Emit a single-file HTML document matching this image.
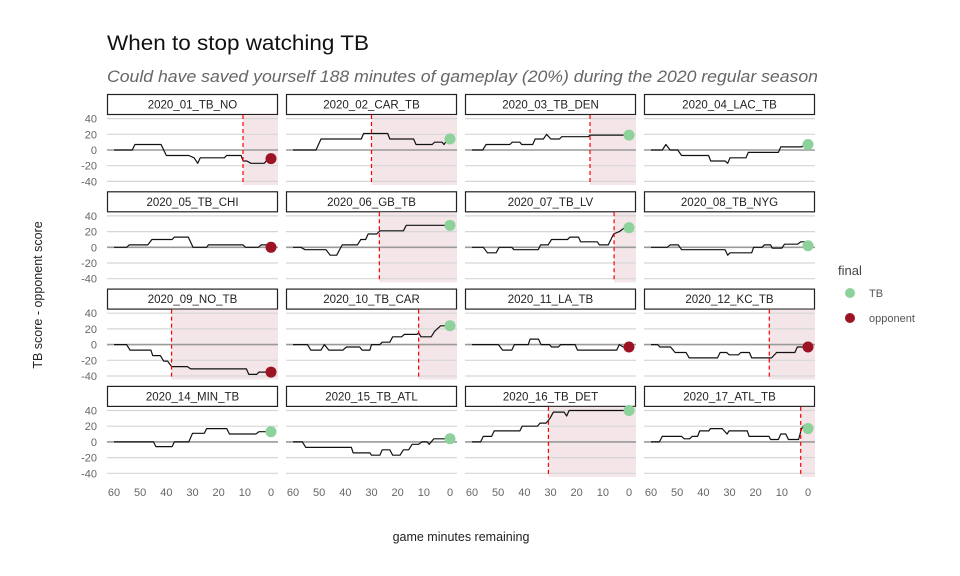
<!DOCTYPE html>
<html><head><meta charset="utf-8"><style>
body{margin:0;background:#fff;}
svg{display:block;font-family:"Liberation Sans",sans-serif;}
</style></head><body>
<svg id="chart" width="960" height="576" viewBox="0 0 960 576" xmlns="http://www.w3.org/2000/svg">
<text x="107" y="50" font-size="21" fill="#111" textLength="262" lengthAdjust="spacingAndGlyphs">When to stop watching TB</text>
<text x="107" y="82" font-size="16.5" font-style="italic" fill="#666" textLength="711" lengthAdjust="spacingAndGlyphs">Could have saved yourself 188 minutes of gameplay (20%) during the 2020 regular season</text>
<text transform="translate(42,295) rotate(-90)" text-anchor="middle" font-size="12.5" fill="#222">TB score - opponent score</text>
<text x="461" y="541" text-anchor="middle" font-size="12.5" fill="#222">game minutes remaining</text>
<g>
<text x="838" y="275" font-size="13" fill="#444">final</text>
<circle cx="850" cy="293" r="5" fill="#8dd19b"/>
<text x="869" y="297" font-size="11" fill="#555">TB</text>
<circle cx="850" cy="318" r="5" fill="#9c1423"/>
<text x="869" y="322" font-size="11" fill="#555">opponent</text>
</g>
<g id="panels"></g>
</svg>
<script>
const games = ["2020_01_TB_NO","2020_02_CAR_TB","2020_03_TB_DEN","2020_04_LAC_TB","2020_05_TB_CHI","2020_06_GB_TB","2020_07_TB_LV","2020_08_TB_NYG","2020_09_NO_TB","2020_10_TB_CAR","2020_11_LA_TB","2020_12_KC_TB","2020_14_MIN_TB","2020_15_TB_ATL","2020_16_TB_DET","2020_17_ATL_TB"];
const cutoffs = [10.7,30,14.9,null,null,27,5.7,null,38,12,null,14.8,null,null,30.8,2.8];
const finals = [-11,14,19,7,0,28,25,2,-35,24,-3,-3,13,4,40,17];
const winners = ["opponent","TB","TB","TB","opponent","TB","TB","TB","opponent","TB","opponent","opponent","TB","TB","TB","TB"];
const yTicks = [40,20,0,-20,-40];
const xTicks = [60,50,40,30,20,10,0];
const series = [
[[60,0],[53,0],[52,7],[42,7],[40,-7],[31.4,-7],[29.4,-10],[28,-17],[27,-10],[17.8,-10],[17,-7],[11.4,-7],[10.7,-14],[9.2,-14],[7.7,-17],[2.6,-17],[1,-11],[0,-11]],
[[60,0],[51.2,0],[49.3,14],[33.9,14],[33,21],[23.8,21],[23,14],[13.9,14],[13,7],[6.8,7],[5.9,10],[3,10],[2.3,7],[1.7,10],[0,14]],
[[60,0],[55.9,0],[54.6,7],[45.5,7],[44.6,10],[41.7,10],[41,7],[36.8,7],[35.9,14],[32.7,14],[31.5,20],[29.9,14],[26.6,14],[25.7,17],[15.5,17],[14.9,19],[0,19]],
[[60,0],[55.7,0],[54.3,7],[52.7,0],[49.8,0],[48.3,-7],[38,-7],[37.2,-14],[31.7,-14],[30.7,-17],[29.8,-10],[23.7,-10],[22.8,-3],[11.3,-3],[10.4,4],[2.4,4],[1.1,7],[0,7]],
[[60,0],[55.2,0],[54.2,3],[47.1,3],[45.5,10],[37.8,10],[36.9,13],[31.6,13],[29.8,0],[24.6,0],[23.9,3],[10.7,3],[9.7,0],[4.9,0],[3.7,3],[1,3],[0,0]],
[[60,0],[57,0],[55.4,-3],[47.4,-3],[45.8,-10],[43.3,-10],[41.2,3],[35.4,3],[34.1,10],[32.2,10],[31.3,17],[28,17],[26.8,21],[17.8,21],[16.7,28],[0,28]],
[[60,0],[55.7,0],[54.1,-7],[50.8,-7],[49.6,0],[44.8,0],[44,-3],[34.7,-3],[33.8,3],[30.9,3],[29.6,10],[23.5,10],[22.5,13],[19.3,13],[18.5,7],[12.1,7],[11.3,3],[7.9,3],[5.9,17],[3.7,20],[2.1,24],[0,25]],
[[60,0],[53.8,0],[52.7,3],[49.6,3],[48.3,-3],[31.7,-3],[30.7,-10],[29.8,-7],[21.5,-7],[20.8,0],[17.6,0],[16.7,3],[14.3,3],[13.7,-1],[10,-1],[9,4],[4,4],[2.7,7],[1.2,7],[0,2]],
[[60,0],[55.2,0],[53.9,-7],[45.9,-7],[45.2,-14],[42.3,-14],[41,-21],[39.5,-21],[38,-28],[32,-28],[30.7,-31],[9.4,-31],[8.5,-38],[5.5,-38],[4.6,-35],[0,-35]],
[[60,0],[54.5,0],[53.2,-7],[49.3,-7],[48,0],[46.3,-7],[40.9,-7],[39.6,-3],[34.5,-3],[33.6,-7],[30.6,-7],[30,0],[26.8,0],[25.9,3],[23,3],[21.9,10],[18.5,10],[17.5,13],[12.7,13],[12,15],[11.1,10],[7.2,10],[5.9,17],[3.6,24],[0,24]],
[[60,0],[49.9,0],[48.3,-7],[44.8,-7],[43.8,0],[38.5,0],[37.8,7],[34.6,7],[33.6,0],[30.4,0],[29.6,-3],[27,-3],[26.1,0],[20.6,0],[19.7,-7],[4.7,-7],[3.7,0],[2.2,-3],[0,-3]],
[[60,0],[57.5,0],[56.6,-3],[52.5,-3],[50.8,-10],[46.6,-10],[45.4,-17],[34.6,-17],[33.6,-10],[31.1,-10],[30.1,-13],[26.6,-13],[25.7,-10],[22.4,-10],[21.5,-17],[13.9,-17],[12,-10],[5,-10],[4.1,-3],[0,-3]],
[[60,0],[44.9,0],[44,-6],[37.8,-6],[36.9,0],[31.4,0],[30,11],[25.5,11],[24.6,17],[16.9,17],[15.9,10],[5.8,10],[4.6,13],[0,13]],
[[60,0],[56.4,0],[55.1,-7],[37.7,-7],[37,-14],[30.6,-14],[30,-17],[26.8,-17],[25.9,-10],[23,-10],[21.9,-17],[19.1,-17],[17.8,-10],[15.8,-10],[14.5,-3],[12,-3],[10.7,0],[8.8,0],[7.9,-3],[6.2,4],[0,4]],
[[60,0],[56.7,0],[55.7,7],[52.5,7],[51.5,14],[41.7,14],[40.8,20],[35,20],[34,24],[31.7,24],[30.2,30],[28.9,38],[24.8,38],[23.8,33],[22.9,40],[0,40]],
[[60,0],[56.8,0],[55.7,7],[48.3,7],[47.3,4],[45.2,4],[44.3,7],[42.2,7],[41.4,14],[37.9,14],[37.3,17],[32.8,17],[30.9,10],[30.2,14],[23.2,14],[22.5,7],[14.9,7],[14.3,3],[11.3,3],[10.4,10],[8.5,10],[7.5,3],[3.6,3],[2.5,17],[1.5,21],[0,17]]
];

const NS="http://www.w3.org/2000/svg";
const root=document.getElementById("panels");
const colLeft=[107,286,465,644], panelW=171;
const rowZero=[150,247.3,344.6,441.9], yScaleK=0.785;
function mk(tag,attrs,parent){const e=document.createElementNS(NS,tag);for(const k in attrs)e.setAttribute(k,attrs[k]);parent.appendChild(e);return e;}
games.forEach((g,i)=>{
  const r=Math.floor(i/4), c=i%4;
  const L=colLeft[c], z=rowZero[r];
  const xs=m=>L+7+(60-m)*(157/60);
  const ys=v=>z-v*yScaleK;
  const top=z-35, bot=z+35;
  const grp=mk("g",{},root);
  
  
  const strip=mk("rect",{x:L+0.5,y:z-55.5,width:panelW-1,height:20,fill:"#fff",stroke:"#222","stroke-width":1.2},grp);
  
  
  const st=mk("text",{x:L+panelW/2,y:z-41.5,"text-anchor":"middle","font-size":11.5,fill:"#222"},grp);
  st.textContent=g;
  
  
  if(cutoffs[i]!==null){
    const cx=xs(cutoffs[i]);
    const sh=mk("rect",{x:cx,y:top,width:L+panelW-cx,height:bot-top,fill:"#f3e5e8"},grp);
    
    
  }
  yTicks.forEach(t=>{
    const gl=mk("line",{x1:L,x2:L+panelW,y1:ys(t),y2:ys(t),stroke:t===0?"#9a9a9a":"#d6d6d6","stroke-width":t===0?1.6:1.2},grp);
    
    
    if(c===0){
      const tl=mk("text",{x:L-10,y:ys(t)+4,"text-anchor":"end","font-size":11,fill:"#666"},grp);
      tl.textContent=t;
      
      
    }
  });
  if(r===3){
    xTicks.forEach(t=>{
      const xl=mk("text",{x:xs(t),y:496,"text-anchor":"middle","font-size":11,fill:"#666"},grp);
      xl.textContent=t;
      
      
    });
  }
  const pts=series[i].map(p=>xs(p[0]).toFixed(1)+","+ys(p[1]).toFixed(1)).join(" ");
  const ln=mk("polyline",{points:pts,fill:"none",stroke:"#111","stroke-width":1.2,"stroke-linejoin":"round"},grp);
  
  
  if(cutoffs[i]!==null){
    const cx=xs(cutoffs[i]);
    const dl=mk("line",{x1:cx,x2:cx,y1:top,y2:bot,stroke:"#f00","stroke-width":1.2,"stroke-dasharray":"4,3"},grp);
    
    
  }
  const dot=mk("circle",{cx:xs(0),cy:ys(finals[i]),r:5.5,fill:winners[i]==="TB"?"#8dd19b":"#9c1423"},grp);
  
  
});
</script>
</body></html>
